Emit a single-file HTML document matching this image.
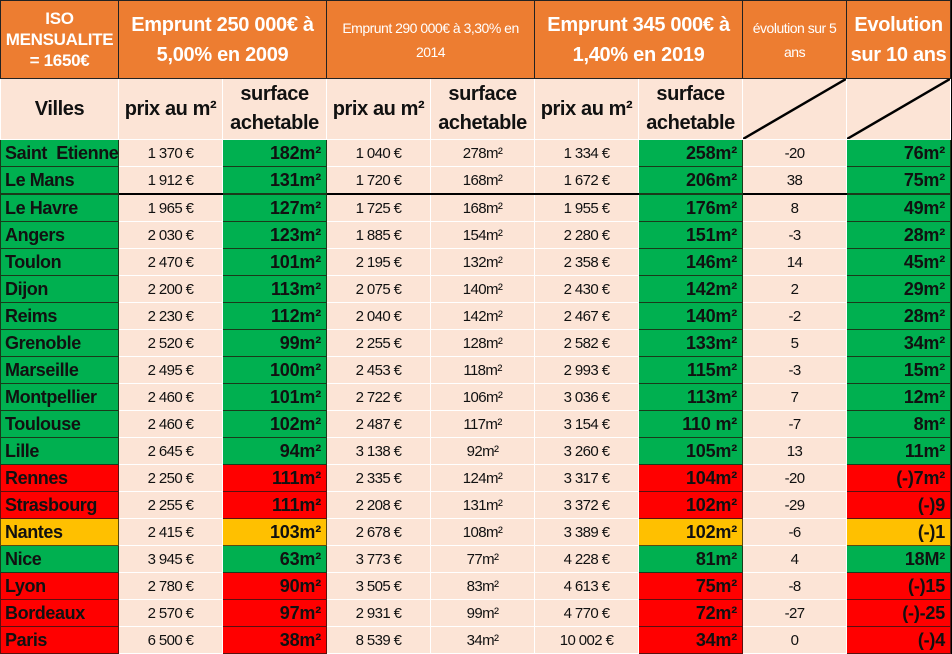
<!DOCTYPE html>
<html><head><meta charset="utf-8"><style>
html,body{margin:0;padding:0;background:#000;}
body{width:952px;height:654px;overflow:hidden;}
table{border-collapse:collapse;table-layout:fixed;width:950px;background:#FCE4D6;font-family:"Liberation Sans",Arial,sans-serif;}
td{border:1px solid #fff;padding:0;text-align:center;color:#111;font-size:15px;letter-spacing:-0.6px;overflow:hidden;white-space:nowrap;}
tr.h td{background:#ED7D31;color:#fff;height:77px;border:1px solid #222;font-weight:bold;font-size:20px;line-height:30px;white-space:normal;letter-spacing:-0.3px;}
tr.h td.s{font-weight:normal;font-size:14px;line-height:24px;letter-spacing:-0.5px;}
tr.h td.f{font-size:17px;line-height:21px;}
tr.sh td{height:60px;font-weight:bold;font-size:20px;line-height:29px;border-top:1px solid #222;white-space:normal;letter-spacing:-0.4px;}
tr.r td{height:26px;}
td.n{text-align:left;font-weight:bold;font-size:18px;padding-left:4px;letter-spacing:-0.4px;}
td.b{text-align:right;font-weight:bold;font-size:18px;padding-right:5px;letter-spacing:-0.2px;}
.g{background:#00B050;border-color:#1a3a1a !important;}
.rd{background:#FF0000;border-color:#5a1010 !important;}
.y{background:#FFC000;border-color:#5a4a10 !important;}
tr.thick td{border-bottom:2px solid #000;}
.dg{background:#FCE4D6 url("data:image/svg+xml;utf8,<svg xmlns='http://www.w3.org/2000/svg' width='104' height='61' preserveAspectRatio='none' viewBox='0 0 104 61'><line x1='0' y1='61' x2='104' y2='0' stroke='black' stroke-width='2.5'/></svg>") no-repeat;background-size:100% 100%;}
</style></head><body>
<table>
<colgroup><col style="width:118px"><col style="width:104px"><col style="width:104px"><col style="width:104px"><col style="width:104px"><col style="width:104px"><col style="width:104px"><col style="width:104px"><col style="width:104px"></colgroup>
<tr class="h"><td class="f">ISO MENSUALITE = 1650€</td><td colspan="2">Emprunt 250 000€ à 5,00% en 2009</td><td colspan="2" class="s">Emprunt 290 000€ à 3,30% en 2014</td><td colspan="2">Emprunt 345 000€ à 1,40% en 2019</td><td class="s">évolution sur 5 ans</td><td>Evolution sur 10 ans</td></tr>
<tr class="sh"><td>Villes</td><td>prix au m²</td><td>surface achetable</td><td>prix au m²</td><td>surface achetable</td><td>prix au m²</td><td>surface achetable</td><td class="dg"></td><td class="dg"></td></tr>
<tr class="r"><td class="n g">Saint &nbsp;Etienne</td><td>1 370 €</td><td class="b g">182m²</td><td>1 040 €</td><td>278m²</td><td>1 334 €</td><td class="b g">258m²</td><td>-20</td><td class="b g">76m²</td></tr>
<tr class="r thick"><td class="n g">Le Mans</td><td>1 912 €</td><td class="b g">131m²</td><td>1 720 €</td><td>168m²</td><td>1 672 €</td><td class="b g">206m²</td><td>38</td><td class="b g">75m²</td></tr>
<tr class="r"><td class="n g">Le Havre</td><td>1 965 €</td><td class="b g">127m²</td><td>1 725 €</td><td>168m²</td><td>1 955 €</td><td class="b g">176m²</td><td>8</td><td class="b g">49m²</td></tr>
<tr class="r"><td class="n g">Angers</td><td>2 030 €</td><td class="b g">123m²</td><td>1 885 €</td><td>154m²</td><td>2 280 €</td><td class="b g">151m²</td><td>-3</td><td class="b g">28m²</td></tr>
<tr class="r"><td class="n g">Toulon</td><td>2 470 €</td><td class="b g">101m²</td><td>2 195 €</td><td>132m²</td><td>2 358 €</td><td class="b g">146m²</td><td>14</td><td class="b g">45m²</td></tr>
<tr class="r"><td class="n g">Dijon</td><td>2 200 €</td><td class="b g">113m²</td><td>2 075 €</td><td>140m²</td><td>2 430 €</td><td class="b g">142m²</td><td>2</td><td class="b g">29m²</td></tr>
<tr class="r"><td class="n g">Reims</td><td>2 230 €</td><td class="b g">112m²</td><td>2 040 €</td><td>142m²</td><td>2 467 €</td><td class="b g">140m²</td><td>-2</td><td class="b g">28m²</td></tr>
<tr class="r"><td class="n g">Grenoble</td><td>2 520 €</td><td class="b g">99m²</td><td>2 255 €</td><td>128m²</td><td>2 582 €</td><td class="b g">133m²</td><td>5</td><td class="b g">34m²</td></tr>
<tr class="r"><td class="n g">Marseille</td><td>2 495 €</td><td class="b g">100m²</td><td>2 453 €</td><td>118m²</td><td>2 993 €</td><td class="b g">115m²</td><td>-3</td><td class="b g">15m²</td></tr>
<tr class="r"><td class="n g">Montpellier</td><td>2 460 €</td><td class="b g">101m²</td><td>2 722 €</td><td>106m²</td><td>3 036 €</td><td class="b g">113m²</td><td>7</td><td class="b g">12m²</td></tr>
<tr class="r"><td class="n g">Toulouse</td><td>2 460 €</td><td class="b g">102m²</td><td>2 487 €</td><td>117m²</td><td>3 154 €</td><td class="b g">110 m²</td><td>-7</td><td class="b g">8m²</td></tr>
<tr class="r"><td class="n g">Lille</td><td>2 645 €</td><td class="b g">94m²</td><td>3 138 €</td><td>92m²</td><td>3 260 €</td><td class="b g">105m²</td><td>13</td><td class="b g">11m²</td></tr>
<tr class="r"><td class="n rd">Rennes</td><td>2 250 €</td><td class="b rd">111m²</td><td>2 335 €</td><td>124m²</td><td>3 317 €</td><td class="b rd">104m²</td><td>-20</td><td class="b rd">(-)7m²</td></tr>
<tr class="r"><td class="n rd">Strasbourg</td><td>2 255 €</td><td class="b rd">111m²</td><td>2 208 €</td><td>131m²</td><td>3 372 €</td><td class="b rd">102m²</td><td>-29</td><td class="b rd">(-)9</td></tr>
<tr class="r"><td class="n y">Nantes</td><td>2 415 €</td><td class="b y">103m²</td><td>2 678 €</td><td>108m²</td><td>3 389 €</td><td class="b y">102m²</td><td>-6</td><td class="b y">(-)1</td></tr>
<tr class="r"><td class="n g">Nice</td><td>3 945 €</td><td class="b g">63m²</td><td>3 773 €</td><td>77m²</td><td>4 228 €</td><td class="b g">81m²</td><td>4</td><td class="b g">18M²</td></tr>
<tr class="r"><td class="n rd">Lyon</td><td>2 780 €</td><td class="b rd">90m²</td><td>3 505 €</td><td>83m²</td><td>4 613 €</td><td class="b rd">75m²</td><td>-8</td><td class="b rd">(-)15</td></tr>
<tr class="r"><td class="n rd">Bordeaux</td><td>2 570 €</td><td class="b rd">97m²</td><td>2 931 €</td><td>99m²</td><td>4 770 €</td><td class="b rd">72m²</td><td>-27</td><td class="b rd">(-)-25</td></tr>
<tr class="r"><td class="n rd">Paris</td><td>6 500 €</td><td class="b rd">38m²</td><td>8 539 €</td><td>34m²</td><td>10 002 €</td><td class="b rd">34m²</td><td>0</td><td class="b rd">(-)4</td></tr>
</table>
</body></html>
